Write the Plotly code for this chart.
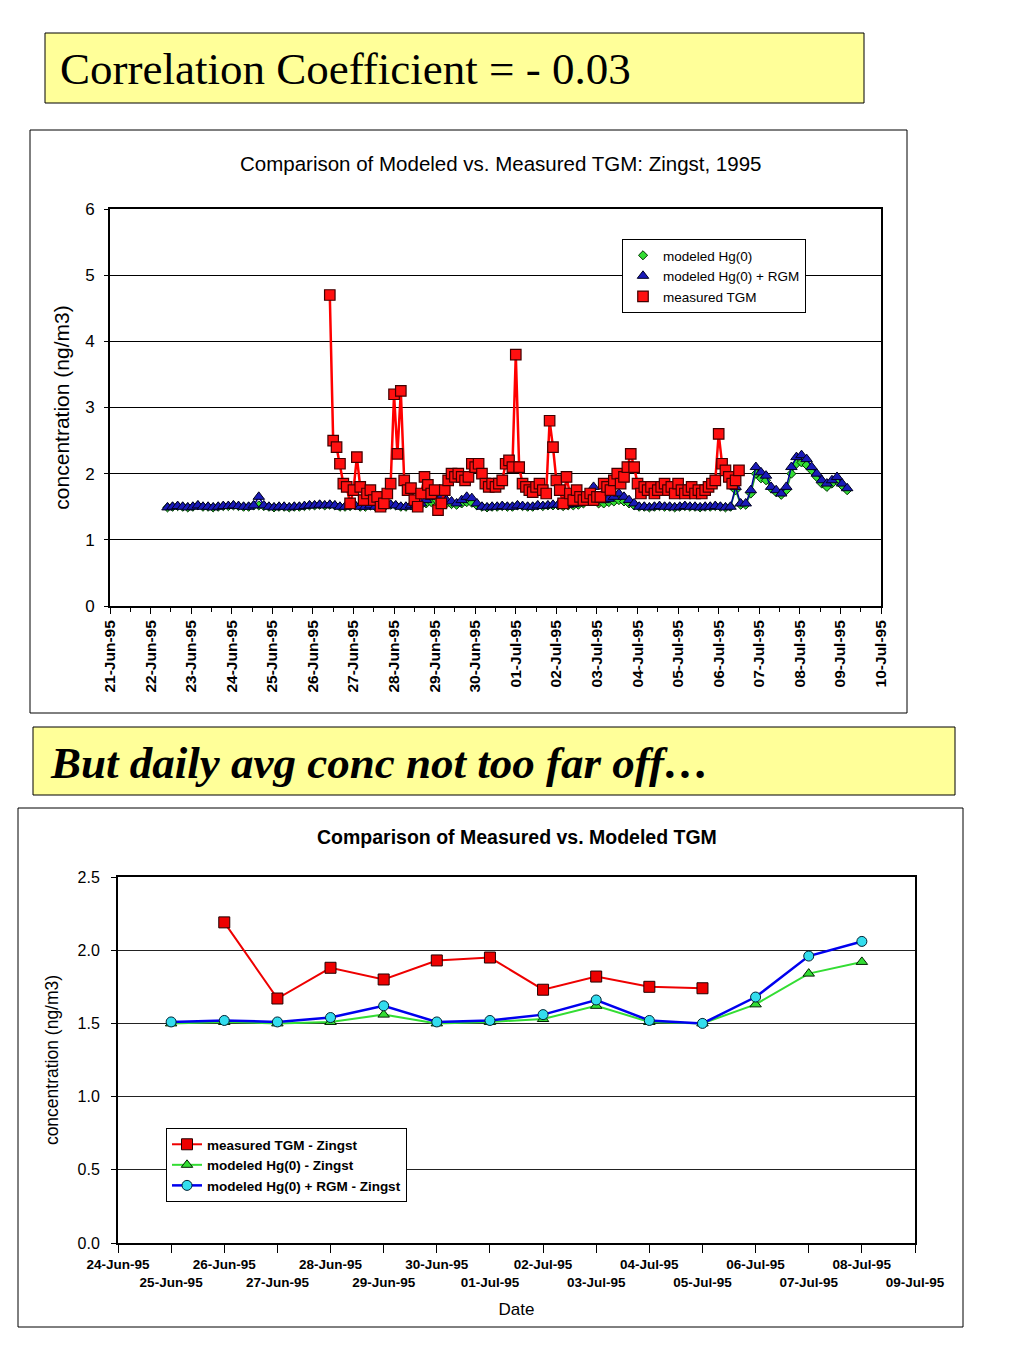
import pandas as pd
import plotly.graph_objects as go

# ---------------- Top chart data (hourly-ish time series, resampled) ----------------
tgm_start = "1995-06-26 10:00"
tgm_step = "2h"
measured_tgm = [
    4.70, 2.50, 2.40, 2.15, 1.85, 1.80, 1.55, 1.75, 2.25, 1.80,
    1.60, 1.70, 1.75, 1.60, 1.65, 1.50, 1.55, 1.70, 1.85, 3.20,
    2.30, 3.25, 1.90, 1.75, 1.78, 1.60, 1.50, 1.70, 1.95, 1.83,
    1.70, 1.75, 1.45, 1.55, 1.75, 1.90, 2.00, 1.95, 2.00, 1.95,
    1.90, 1.95, 2.15, 2.10, 2.15, 2.00, 1.85, 1.80, 1.85, 1.80,
    1.85, 1.90, 2.15, 2.20, 2.10, 3.80, 2.10, 1.85, 1.80, 1.75,
    1.72, 1.80, 1.85, 1.75, 1.70, 2.80, 2.40, 1.90, 1.75, 1.55,
    1.95, 1.70, 1.60, 1.75, 1.65, 1.60, 1.65, 1.70, 1.60, 1.65,
    1.65, 1.85, 1.80, 1.75, 1.90, 2.00, 1.85, 1.95, 2.10, 2.30,
    2.10, 1.85, 1.70, 1.80, 1.75, 1.80, 1.70, 1.75, 1.80, 1.85,
    1.75, 1.80, 1.70, 1.85, 1.75, 1.70, 1.75, 1.80, 1.70, 1.75,
    1.70, 1.75, 1.80, 1.85, 1.90, 2.60, 2.15, 2.05, 1.95, 1.85,
    1.90, 2.05,
]

model_start = "1995-06-22 10:00"
model_step = "3h"
modeled_hg0_rgm = [
    1.49, 1.50, 1.51, 1.50, 1.49, 1.50, 1.52, 1.50, 1.50, 1.49, 1.50, 1.51, 1.51, 1.52, 1.51, 1.50, 1.50, 1.52,
    1.65, 1.52,
    1.50, 1.49, 1.50, 1.50, 1.49, 1.50, 1.50, 1.51, 1.52, 1.52, 1.53, 1.52, 1.53,
    1.52, 1.50, 1.50, 1.51, 1.52, 1.50, 1.50, 1.52, 1.50, 1.50, 1.52, 1.53, 1.52, 1.50, 1.50, 1.52,
    1.53, 1.55, 1.60, 1.65, 1.75, 1.65, 1.60, 1.58, 1.55, 1.60, 1.65, 1.63, 1.55, 1.50,
    1.49, 1.50, 1.50, 1.51, 1.50, 1.50, 1.52, 1.51, 1.50, 1.50, 1.52, 1.51, 1.52,
    1.53, 1.53, 1.52, 1.53, 1.54, 1.55, 1.60, 1.70, 1.80, 1.60, 1.60, 1.62, 1.65, 1.70, 1.65, 1.60, 1.55, 1.50,
    1.50, 1.49, 1.50, 1.51, 1.50, 1.50, 1.49, 1.50, 1.51, 1.50, 1.50, 1.49, 1.50, 1.50, 1.51, 1.50, 1.49, 1.50,
    1.80, 1.55, 1.55, 1.75, 2.10, 2.02, 1.97, 1.80, 1.75, 1.70, 1.80, 2.10, 2.25, 2.28, 2.22, 2.10, 2.00, 1.90,
    1.85, 1.90, 1.95, 1.85, 1.78,
]
modeled_hg0 = [
    1.49, 1.50, 1.51, 1.50, 1.49, 1.50, 1.52, 1.50, 1.50, 1.49, 1.50, 1.51, 1.51, 1.52, 1.51, 1.50, 1.50, 1.52,
    1.52, 1.51,
    1.50, 1.49, 1.50, 1.50, 1.49, 1.50, 1.50, 1.51, 1.52, 1.52, 1.53, 1.52, 1.53,
    1.52, 1.50, 1.50, 1.51, 1.52, 1.50, 1.50, 1.52, 1.50, 1.50, 1.52, 1.53, 1.52, 1.50, 1.50, 1.52,
    1.52, 1.53, 1.55, 1.57, 1.60, 1.58, 1.55, 1.54, 1.53, 1.55, 1.57, 1.56, 1.52, 1.50,
    1.49, 1.50, 1.50, 1.51, 1.50, 1.50, 1.52, 1.51, 1.50, 1.50, 1.52, 1.51, 1.52,
    1.52, 1.52, 1.51, 1.52, 1.52, 1.53, 1.55, 1.60, 1.65, 1.55, 1.55, 1.57, 1.58, 1.60, 1.58, 1.55, 1.52, 1.50,
    1.50, 1.49, 1.50, 1.51, 1.50, 1.50, 1.49, 1.50, 1.51, 1.50, 1.50, 1.49, 1.50, 1.50, 1.51, 1.50, 1.49, 1.50,
    1.75, 1.53, 1.53, 1.70, 2.00, 1.93, 1.90, 1.78, 1.72, 1.68, 1.75, 2.00, 2.15, 2.17, 2.13, 2.05, 1.95, 1.85,
    1.80, 1.85, 1.90, 1.82, 1.75,
]

# ---------------- Bottom chart data (daily averages) ----------------
daily_dates = ["1995-06-25", "1995-06-26", "1995-06-27", "1995-06-28", "1995-06-29", "1995-06-30",
               "1995-07-01", "1995-07-02", "1995-07-03", "1995-07-04", "1995-07-05", "1995-07-06",
               "1995-07-07", "1995-07-08"]
daily_measured = [None, 2.19, 1.67, 1.88, 1.80, 1.93, 1.95, 1.73, 1.82, 1.75, 1.74, None, None, None]
daily_hg0 = [1.50, 1.51, 1.50, 1.51, 1.56, 1.50, 1.51, 1.53, 1.62, 1.51, 1.50, 1.63, 1.84, 1.92]
daily_hg0_rgm = [1.51, 1.52, 1.51, 1.54, 1.62, 1.51, 1.52, 1.56, 1.66, 1.52, 1.50, 1.68, 1.96, 2.06]

bottom_tick_dates = ["1995-06-24", "1995-06-25", "1995-06-26", "1995-06-27", "1995-06-28", "1995-06-29",
                     "1995-06-30", "1995-07-01", "1995-07-02", "1995-07-03", "1995-07-04", "1995-07-05",
                     "1995-07-06", "1995-07-07", "1995-07-08", "1995-07-09"]
bottom_tick_labels = ["24-Jun-95", "25-Jun-95", "26-Jun-95", "27-Jun-95", "28-Jun-95", "29-Jun-95",
                      "30-Jun-95", "01-Jul-95", "02-Jul-95", "03-Jul-95", "04-Jul-95", "05-Jul-95",
                      "06-Jul-95", "07-Jul-95", "08-Jul-95", "09-Jul-95"]

# ---------------- Figure ----------------
W, H = 1024, 1365
SANS = "Liberation Sans, Arial, sans-serif"
SERIF = "Liberation Serif, Times New Roman, serif"


def px(x):
    return x / W


def py(y):
    return 1 - y / H


tgm_x = pd.date_range(tgm_start, periods=len(measured_tgm), freq=tgm_step)
model_x = pd.date_range(model_start, periods=len(modeled_hg0), freq=model_step)

fig = go.Figure()

# Top chart traces: connecting lines (hidden from legend) + markers (legend shows marker only)
top_series = [
    ("modeled Hg(0)", model_x, modeled_hg0, "#22AA22", 1.5,
     dict(symbol="diamond", size=7, color="#33DD33", line=dict(color="#003300", width=1))),
    ("modeled Hg(0) + RGM", model_x, modeled_hg0_rgm, "#000099", 1.5,
     dict(symbol="triangle-up", size=10, color="#1A1AB8", line=dict(color="#000020", width=1))),
    ("measured TGM", tgm_x, measured_tgm, "#FF0000", 2.5,
     dict(symbol="square", size=10.5, color="#FF1010", line=dict(color="#400000", width=1.2))),
]
for name, xs, ys, lc, lw, mk in top_series:
    fig.add_trace(go.Scatter(x=xs, y=ys, mode="lines", line=dict(color=lc, width=lw),
                             showlegend=False, hoverinfo="skip", xaxis="x", yaxis="y"))
    fig.add_trace(go.Scatter(x=xs, y=ys, mode="markers", name=name, marker=mk,
                             xaxis="x", yaxis="y", legend="legend"))

# Bottom chart traces
fig.add_trace(go.Scatter(
    x=daily_dates, y=daily_measured, name="measured TGM - Zingst", mode="lines+markers",
    line=dict(color="#EE0000", width=2),
    marker=dict(symbol="square", size=11, color="#EE0000", line=dict(color="#200000", width=1)),
    xaxis="x2", yaxis="y2", legend="legend2"))
fig.add_trace(go.Scatter(
    x=daily_dates, y=daily_hg0, name="modeled Hg(0) - Zingst", mode="lines+markers",
    line=dict(color="#33DD33", width=2),
    marker=dict(symbol="triangle-up", size=10, color="#33DD33", line=dict(color="#002200", width=1)),
    xaxis="x2", yaxis="y2", legend="legend2"))
fig.add_trace(go.Scatter(
    x=daily_dates, y=daily_hg0_rgm, name="modeled Hg(0) + RGM - Zingst", mode="lines+markers",
    line=dict(color="#0000EE", width=2.5),
    marker=dict(symbol="circle", size=10, color="#33DDEE", line=dict(color="#002233", width=1)),
    xaxis="x2", yaxis="y2", legend="legend2"))

bottom_ticktext = [lab if i % 2 == 0 else "<br>" + lab for i, lab in enumerate(bottom_tick_labels)]

fig.update_layout(
    width=W, height=H,
    margin=dict(l=0, r=0, t=0, b=0, autoexpand=False),
    paper_bgcolor="white", plot_bgcolor="white",
    font=dict(family=SANS, color="black"),
    xaxis=dict(
        domain=[px(110), px(881)], anchor="y", automargin=False,
        type="date", range=["1995-06-21", "1995-07-10"],
        tickmode="linear", tick0="1995-06-21", dtick=86400000,
        tickformat="%d-%b-%y", tickangle=-90,
        tickfont=dict(size=15.5, family=SANS, weight="bold"),
        ticks="outside", ticklen=6, tickcolor="black",
        minor=dict(dtick=43200000, ticks="outside", ticklen=4, tickcolor="black"),
        showline=True, linecolor="black", linewidth=2, mirror=True,
        showgrid=False, zeroline=False,
    ),
    yaxis=dict(
        domain=[py(606), py(209)], anchor="x", automargin=False,
        range=[0, 6], tickmode="linear", tick0=0, dtick=1,
        tickfont=dict(size=17, family=SANS),
        ticks="outside", ticklen=4, tickcolor="black", ticklabelstandoff=6,
        showline=True, linecolor="black", linewidth=2, mirror=True,
        showgrid=True, gridcolor="black", gridwidth=1, zeroline=False,
        title=dict(text="concentration (ng/m3)", font=dict(size=21, family=SANS), standoff=10),
    ),
    xaxis2=dict(
        domain=[px(118), px(915)], anchor="y2", automargin=False,
        type="date", range=["1995-06-24", "1995-07-09"],
        tickmode="array", tickvals=bottom_tick_dates, ticktext=bottom_ticktext,
        tickangle=0,
        tickfont=dict(size=13.5, family=SANS, weight="bold"),
        ticks="outside", ticklen=8, tickcolor="black",
        showline=True, linecolor="black", linewidth=2, mirror=True,
        showgrid=False, zeroline=False,
        title=dict(text="Date", font=dict(size=17, family=SANS), standoff=14),
    ),
    yaxis2=dict(
        domain=[py(1243), py(877)], anchor="x2", automargin=False,
        range=[0, 2.5], tickmode="linear", tick0=0, dtick=0.5, tickformat=".1f",
        tickfont=dict(size=16, family=SANS),
        ticks="outside", ticklen=5, tickcolor="black", ticklabelstandoff=8,
        showline=True, linecolor="black", linewidth=2, mirror=True,
        showgrid=True, gridcolor="#222222", gridwidth=1, zeroline=False,
        title=dict(text="concentration (ng/m3)", font=dict(size=17.5, family=SANS), standoff=14),
    ),
    legend=dict(
        x=px(622), y=py(239), xanchor="left", yanchor="top",
        bgcolor="white", bordercolor="black", borderwidth=1,
        font=dict(size=13.5, family="Liberation Sans Narrow, " + SANS),
        tracegroupgap=0, itemwidth=30,
    ),
    legend2=dict(
        x=px(166), y=py(1128), xanchor="left", yanchor="top",
        bgcolor="white", bordercolor="black", borderwidth=1,
        font=dict(size=13.5, family=SANS, weight="bold"),
        tracegroupgap=0, itemwidth=30,
    ),
    showlegend=True,
)

# Slide boxes
shapes = [
    dict(type="rect", xref="paper", yref="paper", x0=px(45), x1=px(864), y0=py(103), y1=py(33),
         fillcolor="#FFFF99", line=dict(color="black", width=1), layer="below"),
    dict(type="rect", xref="paper", yref="paper", x0=px(30), x1=px(907), y0=py(713), y1=py(130),
         fillcolor="rgba(0,0,0,0)", line=dict(color="black", width=1), layer="below"),
    dict(type="rect", xref="paper", yref="paper", x0=px(33), x1=px(955), y0=py(795), y1=py(727),
         fillcolor="#FFFF99", line=dict(color="black", width=1), layer="below"),
    dict(type="rect", xref="paper", yref="paper", x0=px(18), x1=px(963), y0=py(1327), y1=py(808),
         fillcolor="rgba(0,0,0,0)", line=dict(color="black", width=1), layer="below"),
]
fig.update_layout(shapes=shapes)

annotations = [
    dict(text="Correlation Coefficient = - 0.03", x=px(58), y=py(69), xref="paper", yref="paper",
         xanchor="left", yanchor="middle", showarrow=False,
         font=dict(size=45, family=SERIF, color="black")),
    dict(text="<b><i>But daily avg conc not too far off…</i></b>", x=px(48), y=py(763), xref="paper", yref="paper",
         xanchor="left", yanchor="middle", showarrow=False,
         font=dict(size=45, family=SERIF, color="black")),
    dict(text="Comparison of Modeled vs. Measured TGM: Zingst, 1995", x=px(500), y=py(163),
         xref="paper", yref="paper", xanchor="center", yanchor="middle", showarrow=False,
         font=dict(size=20.5, family=SANS, color="black")),
    dict(text="<b>Comparison of Measured vs. Modeled TGM</b>", x=px(517), y=py(837),
         xref="paper", yref="paper", xanchor="center", yanchor="middle", showarrow=False,
         font=dict(size=19.5, family=SANS, color="black")),
]
fig.update_layout(annotations=annotations)

fig.write_html("out.html", config={"displayModeBar": False},
               post_script="document.body.style.margin='0px';")
